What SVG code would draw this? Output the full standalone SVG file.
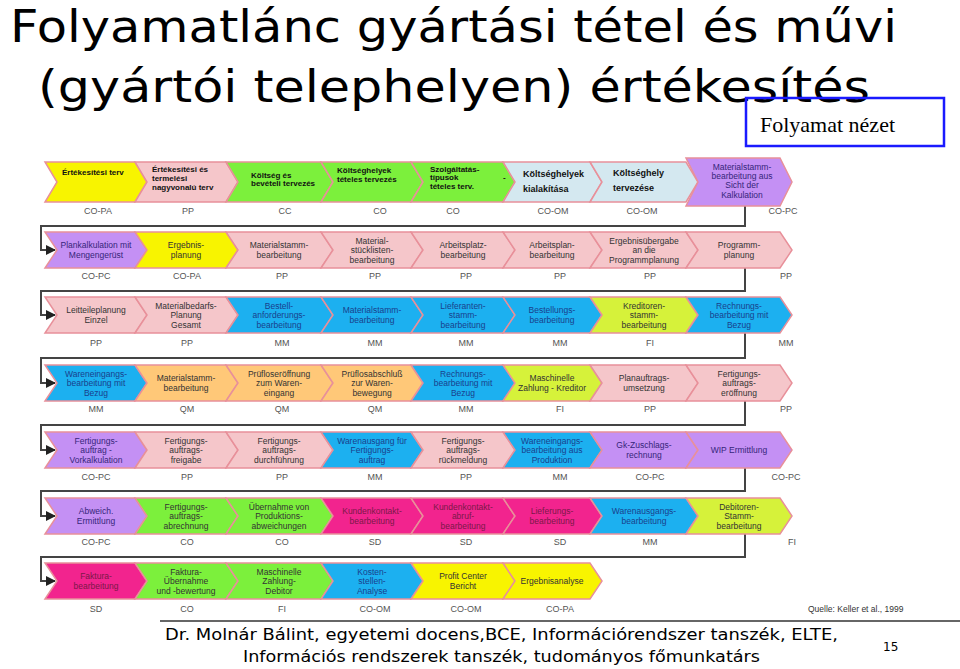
<svg xmlns="http://www.w3.org/2000/svg" width="960" height="669" viewBox="0 0 960 669">
<style>
.ch{stroke:#e8909a;stroke-width:1.5}
.y{fill:#f8f400}.p{fill:#f5c6ca}.g{fill:#7cf03c}.b{fill:#1cb0f0}.v{fill:#c490f4}.o{fill:#ffc878}.m{fill:#f2248e}.yg{fill:#d6f23a}.lb{fill:#d4e8f0}
.t{font-family:"Liberation Sans",Arial,sans-serif;font-size:8.5px;text-anchor:middle;fill:#333}
.tb{fill:#1a3f8c}.tm{fill:#7a1848}.tv{fill:#35257a}
.h{font-family:"Liberation Sans",Arial,sans-serif;font-size:8px;font-weight:bold;fill:#111}
.lab{font-family:"Liberation Sans",Arial,sans-serif;font-size:9px;text-anchor:middle;fill:#555}
.con{fill:none;stroke:#444;stroke-width:2}
.title{font-family:"DejaVu Sans","Noto Sans",sans-serif;font-size:45px;fill:#000}
.foot{font-family:"DejaVu Sans","Noto Sans",sans-serif;font-size:16px;fill:#000}
</style>
<defs>
<marker id="ah" viewBox="0 0 10 10" refX="9" refY="5" markerWidth="5" markerHeight="5" orient="auto"><path d="M0,0 L10,5 L0,10 Z" fill="#222"/></marker>
</defs>

<text class="title" x="10" y="42" textLength="887" lengthAdjust="spacingAndGlyphs">Folyamatlánc gyártási tétel és művi</text>
<text class="title" x="38" y="102" textLength="832" lengthAdjust="spacingAndGlyphs">(gyártói telephelyen) értékesítés</text>
<g id="view-box">
<rect x="746" y="98" width="198" height="48" fill="none" stroke="#1a1aff" stroke-width="2.5"/>
<text x="760" y="132" font-family="'Liberation Serif','Times New Roman',serif" font-size="22" fill="#000">Folyamat nézet</text>
</g>

<g id="connectors">
<path class="con" d="M745,204 V226 H41 V250 H55" marker-end="url(#ah)"/>
<path class="con" d="M745,268 V291 H41 V315 H55" marker-end="url(#ah)"/>
<path class="con" d="M745,333 V358 H41 V383 H55" marker-end="url(#ah)"/>
<path class="con" d="M745,401 V425 H41 V450 H55" marker-end="url(#ah)"/>
<path class="con" d="M745,468 V491 H41 V516 H55" marker-end="url(#ah)"/>
<path class="con" d="M745,534 V557 H41 V581 H55" marker-end="url(#ah)"/>
</g>

<!-- Row 1 -->
<g id="row1">
<g id="r1n1"><polygon class="ch y" points="45,162 135,162 147,182 135,202 45,202 57,182"/><text class="h" x="62" y="175">Értékesítési terv</text></g>
<g id="r1n2"><polygon class="ch p" points="135,162 226,162 238,182 226,202 135,202 147,182"/><text class="h" x="152" y="172">Értékesítési és</text><text class="h" x="152" y="181">termelési</text><text class="h" x="152" y="190">nagyvonalú terv</text></g>
<g id="r1n3"><polygon class="ch g" points="226,162 321,162 333,182 321,202 226,202 238,182"/><text class="h" x="251" y="178">Költség és</text><text class="h" x="251" y="186">bevételi tervezés</text></g>
<g id="r1n4"><polygon class="ch g" points="321,162 411,162 423,182 411,202 321,202 333,182"/><text class="h" x="337" y="173">Költséghelyek</text><text class="h" x="337" y="182">tételes tervezés</text></g>
<g id="r1n5"><polygon class="ch g" points="411,162 503,162 515,182 503,202 411,202 423,182"/><text class="h" x="430" y="172">Szolgáltatás-</text><text class="h" x="430" y="180">típusok</text><text class="h" x="430" y="189">tételes terv.</text><text class="h" x="503" y="180">-</text></g>
<g id="r1n6"><polygon class="ch lb" points="503,162 590,162 602,182 590,202 503,202 515,182"/><text class="h" x="523" y="177" style="font-size:9px">Költséghelyek</text><text class="h" x="523" y="192" style="font-size:9px">kialakítása</text></g>
<g id="r1n7"><polygon class="ch lb" points="590,162 686,162 698,182 686,202 590,202 602,182"/><text class="h" x="613" y="176" style="font-size:9px">Költséghely</text><text class="h" x="613" y="191" style="font-size:9px">tervezése</text></g>
<g id="r1n8"><polygon class="ch v" points="686,158 780,158 792,182 780,206 686,206 698,182"/><text class="t tv" x="742" y="170">Materialstamm-</text><text class="t tv" x="742" y="179">bearbeitung aus</text><text class="t tv" x="742" y="188">Sicht der</text><text class="t tv" x="742" y="198">Kalkulation</text></g>
<g id="r1labels"><text class="lab" x="98" y="214">CO-PA</text><text class="lab" x="188" y="214">PP</text><text class="lab" x="285" y="214">CC</text><text class="lab" x="380" y="214">CO</text><text class="lab" x="453" y="214">CO</text><text class="lab" x="553" y="214">CO-OM</text><text class="lab" x="642" y="214">CO-OM</text><text class="lab" x="783" y="214">CO-PC</text></g>
</g>

<!-- Row 2 -->
<g id="row2" transform="translate(0,232)">
<g id="r2n1"><polygon class="ch v" points="45,0 135,0 147,18 135,36 45,36 57,18"/><text class="t tv" x="96" y="16">Plankalkulation mit</text><text class="t tv" x="96" y="25.5">Mengengerüst</text></g>
<g id="r2n2"><polygon class="ch y" points="135,0 226,0 238,18 226,36 135,36 147,18"/><text class="t" x="186" y="16">Ergebnis-</text><text class="t" x="186" y="25.5">planung</text></g>
<g id="r2n3"><polygon class="ch p" points="226,0 321,0 333,18 321,36 226,36 238,18"/><text class="t" x="279" y="16">Materialstamm-</text><text class="t" x="279" y="25.5">bearbeitung</text></g>
<g id="r2n4"><polygon class="ch p" points="321,0 411,0 423,18 411,36 321,36 333,18"/><text class="t" x="372" y="11.5">Material-</text><text class="t" x="372" y="21">stücklisten-</text><text class="t" x="372" y="30.5">bearbeitung</text></g>
<g id="r2n5"><polygon class="ch p" points="411,0 503,0 515,18 503,36 411,36 423,18"/><text class="t" x="463" y="16">Arbeitsplatz-</text><text class="t" x="463" y="25.5">bearbeitung</text></g>
<g id="r2n6"><polygon class="ch p" points="503,0 590,0 602,18 590,36 503,36 515,18"/><text class="t" x="552" y="16">Arbeitsplan-</text><text class="t" x="552" y="25.5">bearbeitung</text></g>
<g id="r2n7"><polygon class="ch p" points="590,0 686,0 698,18 686,36 590,36 602,18"/><text class="t" x="644" y="11.5">Ergebnisübergabe</text><text class="t" x="644" y="21">an die</text><text class="t" x="644" y="30.5">Programmplanung</text></g>
<g id="r2n8"><polygon class="ch p" points="686,0 780,0 792,18 780,36 686,36 698,18"/><text class="t" x="739" y="16">Programm-</text><text class="t" x="739" y="25.5">planung</text></g>
<g id="r2labels"><text class="lab" x="96" y="47">CO-PC</text><text class="lab" x="187" y="47">CO-PA</text><text class="lab" x="282" y="47">PP</text><text class="lab" x="375" y="47">PP</text><text class="lab" x="466" y="47">PP</text><text class="lab" x="560" y="47">PP</text><text class="lab" x="650" y="47">PP</text><text class="lab" x="786" y="47">PP</text></g>
</g>

<!-- Row 3 -->
<g id="row3" transform="translate(0,297)">
<g id="r3n1"><polygon class="ch p" points="45,0 135,0 147,18 135,36 45,36 57,18"/><text class="t" x="96" y="16">Leitteileplanung</text><text class="t" x="96" y="25.5">Einzel</text></g>
<g id="r3n2"><polygon class="ch p" points="135,0 226,0 238,18 226,36 135,36 147,18"/><text class="t" x="186" y="11.5">Materialbedarfs-</text><text class="t" x="186" y="21">Planung</text><text class="t" x="186" y="30.5">Gesamt</text></g>
<g id="r3n3"><polygon class="ch b" points="226,0 321,0 333,18 321,36 226,36 238,18"/><text class="t tb" x="279" y="11.5">Bestell-</text><text class="t tb" x="279" y="21">anforderungs-</text><text class="t tb" x="279" y="30.5">bearbeitung</text></g>
<g id="r3n4"><polygon class="ch b" points="321,0 411,0 423,18 411,36 321,36 333,18"/><text class="t tb" x="372" y="16">Materialstamm-</text><text class="t tb" x="372" y="25.5">bearbeitung</text></g>
<g id="r3n5"><polygon class="ch b" points="411,0 503,0 515,18 503,36 411,36 423,18"/><text class="t tb" x="463" y="11.5">Lieferanten-</text><text class="t tb" x="463" y="21">stamm-</text><text class="t tb" x="463" y="30.5">bearbeitung</text></g>
<g id="r3n6"><polygon class="ch b" points="503,0 590,0 602,18 590,36 503,36 515,18"/><text class="t tb" x="552" y="16">Bestellungs-</text><text class="t tb" x="552" y="25.5">bearbeitung</text></g>
<g id="r3n7"><polygon class="ch yg" points="590,0 686,0 698,18 686,36 590,36 602,18"/><text class="t" x="644" y="11.5">Kreditoren-</text><text class="t" x="644" y="21">stamm-</text><text class="t" x="644" y="30.5">bearbeitung</text></g>
<g id="r3n8"><polygon class="ch b" points="686,0 780,0 792,18 780,36 686,36 698,18"/><text class="t tb" x="739" y="11.5">Rechnungs-</text><text class="t tb" x="739" y="21">bearbeitung mit</text><text class="t tb" x="739" y="30.5">Bezug</text></g>
<g id="r3labels"><text class="lab" x="96" y="49">PP</text><text class="lab" x="187" y="49">PP</text><text class="lab" x="282" y="49">MM</text><text class="lab" x="375" y="49">MM</text><text class="lab" x="466" y="49">MM</text><text class="lab" x="560" y="49">MM</text><text class="lab" x="650" y="49">FI</text><text class="lab" x="786" y="49">MM</text></g>
</g>

<!-- Row 4 -->
<g id="row4" transform="translate(0,365)">
<g id="r4n1"><polygon class="ch b" points="45,0 135,0 147,18 135,36 45,36 57,18"/><text class="t tb" x="96" y="11.5">Wareneingangs-</text><text class="t tb" x="96" y="21">bearbeitung mit</text><text class="t tb" x="96" y="30.5">Bezug</text></g>
<g id="r4n2"><polygon class="ch o" points="135,0 226,0 238,18 226,36 135,36 147,18"/><text class="t" x="186" y="16">Materialstamm-</text><text class="t" x="186" y="25.5">bearbeitung</text></g>
<g id="r4n3"><polygon class="ch o" points="226,0 321,0 333,18 321,36 226,36 238,18"/><text class="t" x="279" y="11.5">Prüfloseröffnung</text><text class="t" x="279" y="21">zum Waren-</text><text class="t" x="279" y="30.5">eingang</text></g>
<g id="r4n4"><polygon class="ch o" points="321,0 411,0 423,18 411,36 321,36 333,18"/><text class="t" x="372" y="11.5">Prüflosabschluß</text><text class="t" x="372" y="21">zur Waren-</text><text class="t" x="372" y="30.5">bewegung</text></g>
<g id="r4n5"><polygon class="ch b" points="411,0 503,0 515,18 503,36 411,36 423,18"/><text class="t tb" x="463" y="11.5">Rechnungs-</text><text class="t tb" x="463" y="21">bearbeitung mit</text><text class="t tb" x="463" y="30.5">Bezug</text></g>
<g id="r4n6"><polygon class="ch yg" points="503,0 590,0 602,18 590,36 503,36 515,18"/><text class="t" x="552" y="16">Maschinelle</text><text class="t" x="552" y="25.5">Zahlung - Kreditor</text></g>
<g id="r4n7"><polygon class="ch p" points="590,0 686,0 698,18 686,36 590,36 602,18"/><text class="t" x="644" y="16">Planauftrags-</text><text class="t" x="644" y="25.5">umsetzung</text></g>
<g id="r4n8"><polygon class="ch p" points="686,0 780,0 792,18 780,36 686,36 698,18"/><text class="t" x="739" y="11.5">Fertigungs-</text><text class="t" x="739" y="21">auftrags-</text><text class="t" x="739" y="30.5">eröffnung</text></g>
<g id="r4labels"><text class="lab" x="96" y="47">MM</text><text class="lab" x="187" y="47">QM</text><text class="lab" x="282" y="47">QM</text><text class="lab" x="375" y="47">QM</text><text class="lab" x="466" y="47">MM</text><text class="lab" x="560" y="47">FI</text><text class="lab" x="650" y="47">PP</text><text class="lab" x="786" y="47">PP</text></g>
</g>

<!-- Row 5 -->
<g id="row5" transform="translate(0,432)">
<g id="r5n1"><polygon class="ch v" points="45,0 135,0 147,18 135,36 45,36 57,18"/><text class="t tv" x="96" y="11.5">Fertigungs-</text><text class="t tv" x="96" y="21">auftrag -</text><text class="t tv" x="96" y="30.5">Vorkalkulation</text></g>
<g id="r5n2"><polygon class="ch p" points="135,0 226,0 238,18 226,36 135,36 147,18"/><text class="t" x="186" y="11.5">Fertigungs-</text><text class="t" x="186" y="21">auftrags-</text><text class="t" x="186" y="30.5">freigabe</text></g>
<g id="r5n3"><polygon class="ch p" points="226,0 321,0 333,18 321,36 226,36 238,18"/><text class="t" x="279" y="11.5">Fertigungs-</text><text class="t" x="279" y="21">auftrags-</text><text class="t" x="279" y="30.5">durchführung</text></g>
<g id="r5n4"><polygon class="ch b" points="321,0 411,0 423,18 411,36 321,36 333,18"/><text class="t tb" x="372" y="11.5">Warenausgang für</text><text class="t tb" x="372" y="21">Fertigungs-</text><text class="t tb" x="372" y="30.5">auftrag</text></g>
<g id="r5n5"><polygon class="ch p" points="411,0 503,0 515,18 503,36 411,36 423,18"/><text class="t" x="463" y="11.5">Fertigungs-</text><text class="t" x="463" y="21">auftrags-</text><text class="t" x="463" y="30.5">rückmeldung</text></g>
<g id="r5n6"><polygon class="ch b" points="503,0 590,0 602,18 590,36 503,36 515,18"/><text class="t tb" x="552" y="11.5">Wareneingangs-</text><text class="t tb" x="552" y="21">bearbeitung aus</text><text class="t tb" x="552" y="30.5">Produktion</text></g>
<g id="r5n7"><polygon class="ch v" points="590,0 686,0 698,18 686,36 590,36 602,18"/><text class="t tv" x="644" y="16">Gk-Zuschlags-</text><text class="t tv" x="644" y="25.5">rechnung</text></g>
<g id="r5n8"><polygon class="ch v" points="686,0 780,0 792,18 780,36 686,36 698,18"/><text class="t tv" x="739" y="21">WIP Ermittlung</text></g>
<g id="r5labels"><text class="lab" x="96" y="48">CO-PC</text><text class="lab" x="187" y="48">PP</text><text class="lab" x="282" y="48">PP</text><text class="lab" x="375" y="48">MM</text><text class="lab" x="466" y="48">PP</text><text class="lab" x="560" y="48">MM</text><text class="lab" x="650" y="48">CO-PC</text><text class="lab" x="786" y="48">CO-PC</text></g>
</g>

<!-- Row 6 -->
<g id="row6" transform="translate(0,498)">
<g id="r6n1"><polygon class="ch v" points="45,0 135,0 147,18 135,36 45,36 57,18"/><text class="t tv" x="96" y="16">Abweich.</text><text class="t tv" x="96" y="25.5">Ermittlung</text></g>
<g id="r6n2"><polygon class="ch g" points="135,0 226,0 238,18 226,36 135,36 147,18"/><text class="t" x="186" y="11.5">Fertigungs-</text><text class="t" x="186" y="21">auftrags-</text><text class="t" x="186" y="30.5">abrechnung</text></g>
<g id="r6n3"><polygon class="ch g" points="226,0 321,0 333,18 321,36 226,36 238,18"/><text class="t" x="279" y="11.5">Übernahme von</text><text class="t" x="279" y="21">Produktions-</text><text class="t" x="279" y="30.5">abweichungen</text></g>
<g id="r6n4"><polygon class="ch m" points="321,0 411,0 423,18 411,36 321,36 333,18"/><text class="t tm" x="372" y="16">Kundenkontakt-</text><text class="t tm" x="372" y="25.5">bearbeitung</text></g>
<g id="r6n5"><polygon class="ch m" points="411,0 503,0 515,18 503,36 411,36 423,18"/><text class="t tm" x="463" y="11.5">Kundenkontakt-</text><text class="t tm" x="463" y="21">abruf-</text><text class="t tm" x="463" y="30.5">bearbeitung</text></g>
<g id="r6n6"><polygon class="ch m" points="503,0 590,0 602,18 590,36 503,36 515,18"/><text class="t tm" x="552" y="16">Lieferungs-</text><text class="t tm" x="552" y="25.5">bearbeitung</text></g>
<g id="r6n7"><polygon class="ch b" points="590,0 686,0 698,18 686,36 590,36 602,18"/><text class="t tb" x="644" y="16">Warenausgangs-</text><text class="t tb" x="644" y="25.5">bearbeitung</text></g>
<g id="r6n8"><polygon class="ch yg" points="686,0 780,0 792,18 780,36 686,36 698,18"/><text class="t" x="739" y="11.5">Debitoren-</text><text class="t" x="739" y="21">Stamm-</text><text class="t" x="739" y="30.5">bearbeitung</text></g>
<g id="r6labels"><text class="lab" x="96" y="47">CO-PC</text><text class="lab" x="187" y="47">CO</text><text class="lab" x="282" y="47">CO</text><text class="lab" x="375" y="47">SD</text><text class="lab" x="466" y="47">SD</text><text class="lab" x="560" y="47">SD</text><text class="lab" x="650" y="47">MM</text><text class="lab" x="792" y="47">FI</text></g>
</g>

<!-- Row 7 -->
<g id="row7" transform="translate(0,563)">
<g id="r7n1"><polygon class="ch m" points="45,0 135,0 147,18 135,36 45,36 57,18"/><text class="t tm" x="96" y="16">Faktura-</text><text class="t tm" x="96" y="25.5">bearbeitung</text></g>
<g id="r7n2"><polygon class="ch g" points="135,0 226,0 238,18 226,36 135,36 147,18"/><text class="t" x="186" y="11.5">Faktura-</text><text class="t" x="186" y="21">Übernahme</text><text class="t" x="186" y="30.5">und -bewertung</text></g>
<g id="r7n3"><polygon class="ch g" points="226,0 321,0 333,18 321,36 226,36 238,18"/><text class="t" x="279" y="11.5">Maschinelle</text><text class="t" x="279" y="21">Zahlung-</text><text class="t" x="279" y="30.5">Debitor</text></g>
<g id="r7n4"><polygon class="ch b" points="321,0 411,0 423,18 411,36 321,36 333,18"/><text class="t tb" x="372" y="11.5">Kosten-</text><text class="t tb" x="372" y="21">stellen-</text><text class="t tb" x="372" y="30.5">Analyse</text></g>
<g id="r7n5"><polygon class="ch y" points="411,0 503,0 515,18 503,36 411,36 423,18"/><text class="t" x="463" y="16">Profit Center</text><text class="t" x="463" y="25.5">Bericht</text></g>
<g id="r7n6"><polygon class="ch y" points="503,0 590,0 602,18 590,36 503,36 515,18"/><text class="t" x="552" y="21">Ergebnisanalyse</text></g>
<g id="r7labels"><text class="lab" x="96" y="49">SD</text><text class="lab" x="187" y="49">CO</text><text class="lab" x="282" y="49">FI</text><text class="lab" x="375" y="49">CO-OM</text><text class="lab" x="466" y="49">CO-OM</text><text class="lab" x="560" y="49">CO-PA</text></g>
</g>

<text x="808" y="612" font-family="'Liberation Sans',Arial,sans-serif" font-size="8.5" fill="#333">Quelle: Keller et al., 1999</text>

<line x1="160" y1="621" x2="960" y2="621" stroke="#333" stroke-width="1.5"/>
<text class="foot" x="165" y="640" textLength="673" lengthAdjust="spacingAndGlyphs">Dr. Molnár Bálint, egyetemi docens,BCE, Információrendszer tanszék, ELTE,</text>
<text class="foot" x="243" y="662" textLength="517" lengthAdjust="spacingAndGlyphs">Információs rendszerek tanszék, tudományos főmunkatárs</text>
<text x="883" y="651" font-family="'DejaVu Sans',sans-serif" font-size="12" fill="#000">15</text>
</svg>
